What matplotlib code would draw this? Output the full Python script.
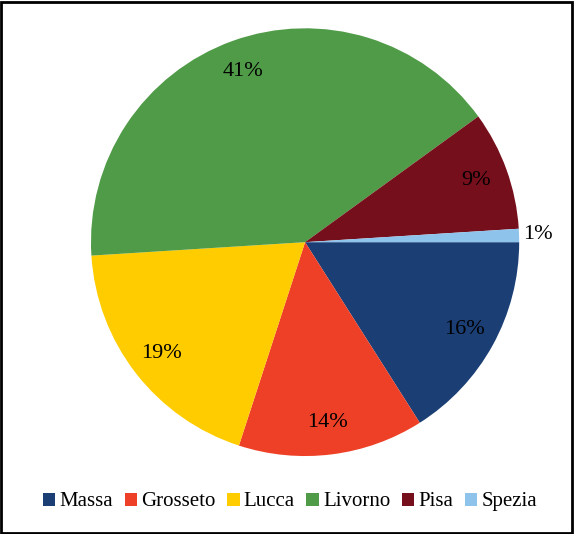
import matplotlib
matplotlib.use("Agg")
import matplotlib.pyplot as plt
from matplotlib.patches import Rectangle
import numpy as np

# share of each province
labels = ['Massa', 'Grosseto', 'Lucca', 'Livorno', 'Pisa', 'Spezia']
values = [16, 14, 19, 41, 9, 1]
colors = ['#1B3F75', '#EE4026', '#FFCC00', '#509B47', '#760F1C', '#8EC4EC']

plt.rcParams['font.family'] = ['Liberation Serif', 'DejaVu Serif']

fig = plt.figure(figsize=(5.74, 5.34), dpi=100)
ax = fig.add_axes([0.1585, 0.146, 0.746, 0.801])

wedges, texts, autotexts = ax.pie(values, colors=colors, startangle=0, counterclock=False,
                                  autopct='%1.0f%%', pctdistance=0.85, radius=1,
                                  textprops={'fontsize': 16, 'color': 'black'})
ax.set_xlim(-1, 1)
ax.set_ylim(-1, 1)
ax.set_aspect('auto')

# the smallest slice gets its label outside the pie
w = wedges[-1]
ang = np.deg2rad((w.theta1 + w.theta2) / 2)
autotexts[-1].set_position((1.09 * np.cos(ang), 1.09 * np.sin(ang)))

fig.legend(wedges, labels, loc='center', bbox_to_anchor=(0.505, 0.06), ncol=6,
           frameon=False, fontsize=15, handlelength=0.6, handleheight=0.6,
           handletextpad=0.2, columnspacing=0.55)

# black frame around the chart
fig.patches.append(Rectangle((0.002, 0.002), 0.994, 0.994, transform=fig.transFigure,
                             fill=False, edgecolor='black', linewidth=2))

fig.savefig('out.png', dpi=100)
